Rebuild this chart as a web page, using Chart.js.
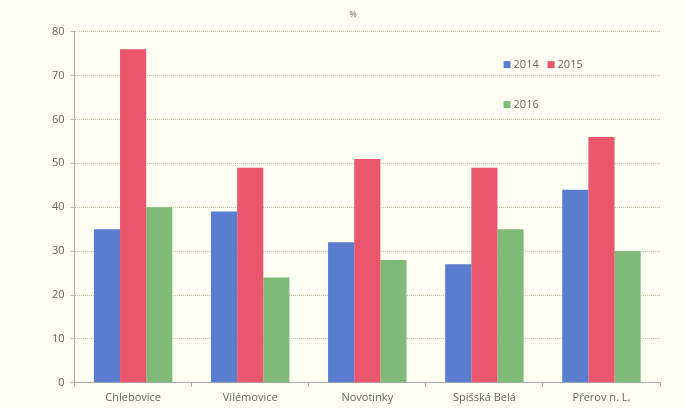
<!DOCTYPE html>
<html>
<head>
<meta charset="utf-8">
<script src="https://cdn.jsdelivr.net/npm/chart.js@4/dist/chart.umd.min.js"></script>
<style>
  html, body { margin: 0; padding: 0; background: #fdfdf2; }
  #wrap { width: 685px; height: 408px; position: relative; }
</style>
</head>
<body>
<div id="wrap"><canvas id="myChart"></canvas></div>
<script>
const places = ['Chlebovice', 'Vilémovice', 'Novotinky', 'Spišská Belá', 'Přerov n. L.']
const years = ['2014', '2015', '2016']
const v2014 = [35, 39, 32, 27, 44]
const v2015 = [76, 49, 51, 49, 56]
const v2016 = [40, 24, 28, 35, 30]
const colors = ['#5a7dcf', '#e9566e', '#7fba79']

// legend drawn inside the plot, two items on the first row and one below
const legendInside = {
    id: 'legendInside',
    afterDraw(chart) {
        const ctx = chart.ctx
        const a = chart.chartArea
        const spots = [[a.left + 429, a.top + 33], [a.left + 473, a.top + 33], [a.left + 429, a.top + 73]]
        ctx.save()
        ctx.font = '11px "Open Sans"'
        ctx.textBaseline = 'middle'
        chart.data.datasets.forEach((ds, i) => {
            const [x, y] = spots[i]
            ctx.fillStyle = ds.backgroundColor
            ctx.fillRect(x, y - 3.5, 7, 7)
            ctx.fillStyle = '#666'
            ctx.fillText(ds.label, x + 10, y)
        })
        ctx.restore()
    }
}

new Chart("myChart", {
    type: "bar",
    data: {
        labels: places,
        datasets: [
            { label: years[0], data: v2014, backgroundColor: colors[0] },
            { label: years[1], data: v2015, backgroundColor: colors[1] },
            { label: years[2], data: v2016, backgroundColor: colors[2] }
        ]
    },
    options: {
        responsive: true,
        maintainAspectRatio: false,
        animation: false,
        layout: { padding: { left: 46, right: 25, top: 6, bottom: 0 } },
        plugins: {
            legend: { display: false },
            tooltip: { enabled: false },
            title: {
                display: true,
                text: '%',
                color: '#999',
                font: { family: 'Open Sans', size: 8 },
                padding: { top: 4, bottom: 12 }
            }
        },
        datasets: { bar: { barPercentage: 1, categoryPercentage: 0.67 } },
        scales: {
            x: {
                grid: { display: true, drawOnChartArea: false, drawTicks: true, tickLength: 4, color: '#aaa', offset: true },
                border: { color: '#aaa' },
                ticks: { color: '#666', font: { family: 'Open Sans', size: 11 }, padding: 4 }
            },
            y: {
                min: 0, max: 80,
                ticks: { stepSize: 10, color: '#666', font: { family: 'Open Sans', size: 11 }, padding: 6 },
                grid: { color: '#c9c9a8', tickLength: 4, tickColor: '#bbb' },
                border: { color: '#aaa', dash: [1, 1] }
            }
        }
    },
    plugins: [legendInside]
})
</script>
</body>
</html>
